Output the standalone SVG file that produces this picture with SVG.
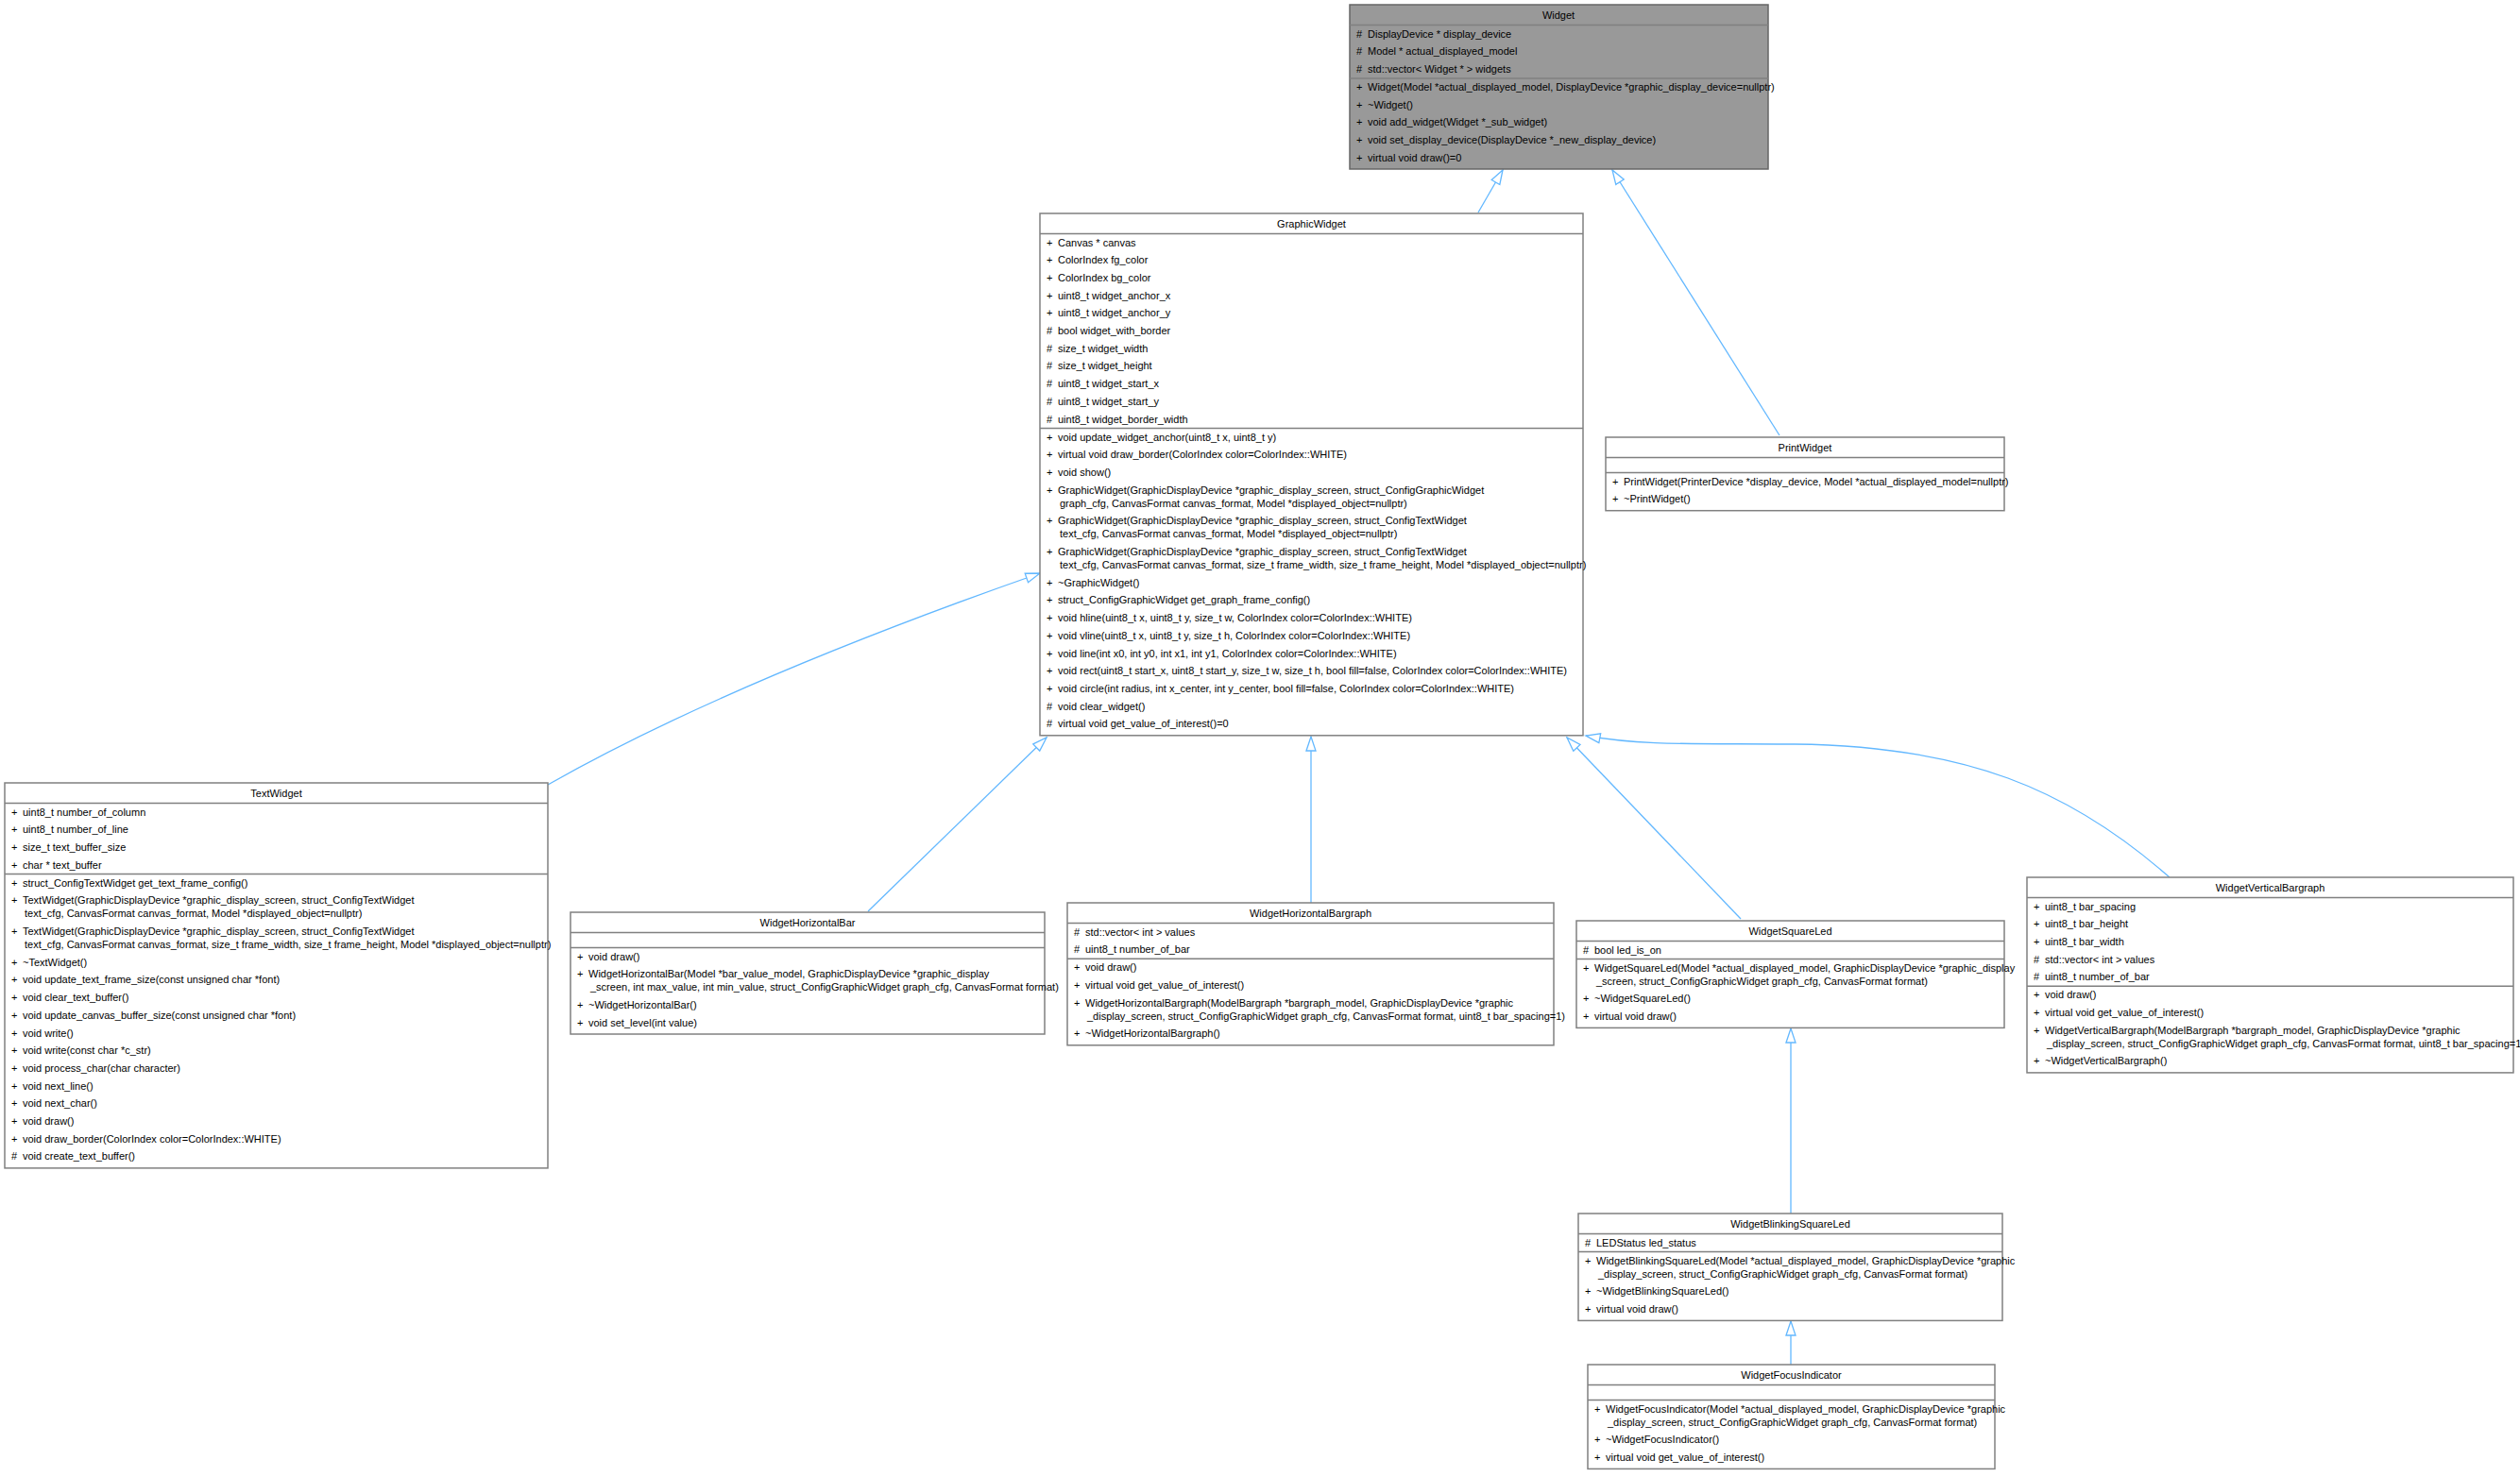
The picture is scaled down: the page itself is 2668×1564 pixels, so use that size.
<svg xmlns="http://www.w3.org/2000/svg" width="2668" height="1564" viewBox="0 0 2668 1564">
<style>
text{font-family:"Liberation Sans",Arial,sans-serif;font-size:11px;fill:#000}
.t{text-anchor:middle}
.box{fill:#fff;stroke:#808080;stroke-width:1.5}
.root{fill:#999;stroke:#666;stroke-width:1.5}
.div{stroke:#808080;stroke-width:1.5}
.e{fill:none;stroke:#63b8ff;stroke-width:1.3;marker-end:url(#tri)}
</style>
<defs>
<marker id="tri" markerWidth="18" markerHeight="14" refX="16" refY="6" orient="auto" markerUnits="userSpaceOnUse">
<path d="M1,1 L16,6 L1,11 Z" fill="#fff" stroke="#63b8ff" stroke-width="1.3"/>
</marker>
</defs>
<rect width="2668" height="1564" fill="#fff"/>

<g id="connectors">
<path class="e" d="M1565,225 L1591,180"/>
<path class="e" d="M1884,461 L1707,180"/>
<path class="e" d="M580,831 C740,740 950,660 1101,607"/>
<path class="e" d="M919,965 L1108,781"/>
<path class="e" d="M1388,956 L1388,780"/>
<path class="e" d="M1843,973 L1659,781"/>
<path class="e" d="M2297,929 C2190,835 2080,790 1900,788 C1800,787 1740,790 1679,779"/>
<path class="e" d="M1896,1285 L1896,1089"/>
<path class="e" d="M1896,1445 L1896,1399"/>
</g>

<g id="Widget">
<rect class="root" x="1429" y="5" width="443" height="174"/>
<line class="div" x1="1429" y1="26.5" x2="1872" y2="26.5"/>
<line class="div" x1="1429" y1="82.9" x2="1872" y2="82.9"/>
<text class="t" x="1650" y="20">Widget</text>
<text x="1436" y="39.5"># </text><text x="1448" y="39.5">DisplayDevice * display_device</text>
<text x="1436" y="58.2"># </text><text x="1448" y="58.2">Model * actual_displayed_model</text>
<text x="1436" y="76.9"># </text><text x="1448" y="76.9">std::vector&lt; Widget * &gt; widgets</text>
<text x="1436" y="95.9">+</text><text x="1448" y="95.9">Widget(Model *actual_displayed_model, DisplayDevice *graphic_display_device=nullptr)</text>
<text x="1436" y="114.6">+</text><text x="1448" y="114.6">~Widget()</text>
<text x="1436" y="133.3">+</text><text x="1448" y="133.3">void add_widget(Widget *_sub_widget)</text>
<text x="1436" y="152">+</text><text x="1448" y="152">void set_display_device(DisplayDevice *_new_display_device)</text>
<text x="1436" y="170.7">+</text><text x="1448" y="170.7">virtual void draw()=0</text>
</g>

<g id="GraphicWidget">
<rect class="box" x="1101" y="226" width="575" height="552.8"/>
<line class="div" x1="1101" y1="247.5" x2="1676" y2="247.5"/>
<line class="div" x1="1101" y1="453.5" x2="1676" y2="453.5"/>
<text class="t" x="1388.5" y="241">GraphicWidget</text>
<text x="1108" y="260.5">+</text><text x="1120" y="260.5">Canvas * canvas</text>
<text x="1108" y="279.2">+</text><text x="1120" y="279.2">ColorIndex fg_color</text>
<text x="1108" y="297.9">+</text><text x="1120" y="297.9">ColorIndex bg_color</text>
<text x="1108" y="316.6">+</text><text x="1120" y="316.6">uint8_t widget_anchor_x</text>
<text x="1108" y="335.3">+</text><text x="1120" y="335.3">uint8_t widget_anchor_y</text>
<text x="1108" y="354">#</text><text x="1120" y="354">bool widget_with_border</text>
<text x="1108" y="372.7">#</text><text x="1120" y="372.7">size_t widget_width</text>
<text x="1108" y="391.4">#</text><text x="1120" y="391.4">size_t widget_height</text>
<text x="1108" y="410.1">#</text><text x="1120" y="410.1">uint8_t widget_start_x</text>
<text x="1108" y="428.8">#</text><text x="1120" y="428.8">uint8_t widget_start_y</text>
<text x="1108" y="447.5">#</text><text x="1120" y="447.5">uint8_t widget_border_width</text>
<text x="1108" y="466.5">+</text><text x="1120" y="466.5">void update_widget_anchor(uint8_t x, uint8_t y)</text>
<text x="1108" y="485.2">+</text><text x="1120" y="485.2">virtual void draw_border(ColorIndex color=ColorIndex::WHITE)</text>
<text x="1108" y="503.9">+</text><text x="1120" y="503.9">void show()</text>
<text x="1108" y="522.6">+</text><text x="1120" y="522.6">GraphicWidget(GraphicDisplayDevice *graphic_display_screen, struct_ConfigGraphicWidget</text>
<text x="1122" y="536.6">graph_cfg, CanvasFormat canvas_format, Model *displayed_object=nullptr)</text>
<text x="1108" y="555.3">+</text><text x="1120" y="555.3">GraphicWidget(GraphicDisplayDevice *graphic_display_screen, struct_ConfigTextWidget</text>
<text x="1122" y="569.3">text_cfg, CanvasFormat canvas_format, Model *displayed_object=nullptr)</text>
<text x="1108" y="588">+</text><text x="1120" y="588">GraphicWidget(GraphicDisplayDevice *graphic_display_screen, struct_ConfigTextWidget</text>
<text x="1122" y="602">text_cfg, CanvasFormat canvas_format, size_t frame_width, size_t frame_height, Model *displayed_object=nullptr)</text>
<text x="1108" y="620.7">+</text><text x="1120" y="620.7">~GraphicWidget()</text>
<text x="1108" y="639.4">+</text><text x="1120" y="639.4">struct_ConfigGraphicWidget get_graph_frame_config()</text>
<text x="1108" y="658.1">+</text><text x="1120" y="658.1">void hline(uint8_t x, uint8_t y, size_t w, ColorIndex color=ColorIndex::WHITE)</text>
<text x="1108" y="676.8">+</text><text x="1120" y="676.8">void vline(uint8_t x, uint8_t y, size_t h, ColorIndex color=ColorIndex::WHITE)</text>
<text x="1108" y="695.5">+</text><text x="1120" y="695.5">void line(int x0, int y0, int x1, int y1, ColorIndex color=ColorIndex::WHITE)</text>
<text x="1108" y="714.2">+</text><text x="1120" y="714.2">void rect(uint8_t start_x, uint8_t start_y, size_t w, size_t h, bool fill=false, ColorIndex color=ColorIndex::WHITE)</text>
<text x="1108" y="732.9">+</text><text x="1120" y="732.9">void circle(int radius, int x_center, int y_center, bool fill=false, ColorIndex color=ColorIndex::WHITE)</text>
<text x="1108" y="751.6">#</text><text x="1120" y="751.6">void clear_widget()</text>
<text x="1108" y="770.3">#</text><text x="1120" y="770.3">virtual void get_value_of_interest()=0</text>
</g>

<g id="PrintWidget">
<rect class="box" x="1700" y="463" width="422" height="77.7"/>
<line class="div" x1="1700" y1="484.5" x2="2122" y2="484.5"/>
<line class="div" x1="1700" y1="500.5" x2="2122" y2="500.5"/>
<text class="t" x="1911" y="478">PrintWidget</text>
<text x="1707" y="513.5">+</text><text x="1719" y="513.5">PrintWidget(PrinterDevice *display_device, Model *actual_displayed_model=nullptr)</text>
<text x="1707" y="532.2">+</text><text x="1719" y="532.2">~PrintWidget()</text>
</g>

<g id="TextWidget">
<rect class="box" x="5" y="829" width="575" height="407.9"/>
<line class="div" x1="5" y1="850.5" x2="580" y2="850.5"/>
<line class="div" x1="5" y1="925.6" x2="580" y2="925.6"/>
<text class="t" x="292.5" y="844">TextWidget</text>
<text x="12" y="863.5">+</text><text x="24" y="863.5">uint8_t number_of_column</text>
<text x="12" y="882.2">+</text><text x="24" y="882.2">uint8_t number_of_line</text>
<text x="12" y="900.9">+</text><text x="24" y="900.9">size_t text_buffer_size</text>
<text x="12" y="919.6">+</text><text x="24" y="919.6">char * text_buffer</text>
<text x="12" y="938.6">+</text><text x="24" y="938.6">struct_ConfigTextWidget get_text_frame_config()</text>
<text x="12" y="957.3">+</text><text x="24" y="957.3">TextWidget(GraphicDisplayDevice *graphic_display_screen, struct_ConfigTextWidget</text>
<text x="26" y="971.3">text_cfg, CanvasFormat canvas_format, Model *displayed_object=nullptr)</text>
<text x="12" y="990">+</text><text x="24" y="990">TextWidget(GraphicDisplayDevice *graphic_display_screen, struct_ConfigTextWidget</text>
<text x="26" y="1004">text_cfg, CanvasFormat canvas_format, size_t frame_width, size_t frame_height, Model *displayed_object=nullptr)</text>
<text x="12" y="1022.7">+</text><text x="24" y="1022.7">~TextWidget()</text>
<text x="12" y="1041.4">+</text><text x="24" y="1041.4">void update_text_frame_size(const unsigned char *font)</text>
<text x="12" y="1060.1">+</text><text x="24" y="1060.1">void clear_text_buffer()</text>
<text x="12" y="1078.8">+</text><text x="24" y="1078.8">void update_canvas_buffer_size(const unsigned char *font)</text>
<text x="12" y="1097.5">+</text><text x="24" y="1097.5">void write()</text>
<text x="12" y="1116.2">+</text><text x="24" y="1116.2">void write(const char *c_str)</text>
<text x="12" y="1134.9">+</text><text x="24" y="1134.9">void process_char(char character)</text>
<text x="12" y="1153.6">+</text><text x="24" y="1153.6">void next_line()</text>
<text x="12" y="1172.3">+</text><text x="24" y="1172.3">void next_char()</text>
<text x="12" y="1191">+</text><text x="24" y="1191">void draw()</text>
<text x="12" y="1209.7">+</text><text x="24" y="1209.7">void draw_border(ColorIndex color=ColorIndex::WHITE)</text>
<text x="12" y="1228.4">#</text><text x="24" y="1228.4">void create_text_buffer()</text>
</g>

<g id="WidgetHorizontalBar">
<rect class="box" x="604" y="966" width="502" height="129"/>
<line class="div" x1="604" y1="987.5" x2="1106" y2="987.5"/>
<line class="div" x1="604" y1="1003.5" x2="1106" y2="1003.5"/>
<text class="t" x="855" y="981">WidgetHorizontalBar</text>
<text x="611" y="1016.5">+</text><text x="623" y="1016.5">void draw()</text>
<text x="611" y="1035.2">+</text><text x="623" y="1035.2">WidgetHorizontalBar(Model *bar_value_model, GraphicDisplayDevice *graphic_display</text>
<text x="625" y="1049.2">_screen, int max_value, int min_value, struct_ConfigGraphicWidget graph_cfg, CanvasFormat format)</text>
<text x="611" y="1067.9">+</text><text x="623" y="1067.9">~WidgetHorizontalBar()</text>
<text x="611" y="1086.6">+</text><text x="623" y="1086.6">void set_level(int value)</text>
</g>

<g id="WidgetHorizontalBargraph">
<rect class="box" x="1130" y="956" width="515" height="150.8"/>
<line class="div" x1="1130" y1="977.5" x2="1645" y2="977.5"/>
<line class="div" x1="1130" y1="1015.2" x2="1645" y2="1015.2"/>
<text class="t" x="1387.5" y="971">WidgetHorizontalBargraph</text>
<text x="1137" y="990.5">#</text><text x="1149" y="990.5">std::vector&lt; int &gt; values</text>
<text x="1137" y="1009.2">#</text><text x="1149" y="1009.2">uint8_t number_of_bar</text>
<text x="1137" y="1028.2">+</text><text x="1149" y="1028.2">void draw()</text>
<text x="1137" y="1046.9">+</text><text x="1149" y="1046.9">virtual void get_value_of_interest()</text>
<text x="1137" y="1065.6">+</text><text x="1149" y="1065.6">WidgetHorizontalBargraph(ModelBargraph *bargraph_model, GraphicDisplayDevice *graphic</text>
<text x="1151" y="1079.6">_display_screen, struct_ConfigGraphicWidget graph_cfg, CanvasFormat format, uint8_t bar_spacing=1)</text>
<text x="1137" y="1098.3">+</text><text x="1149" y="1098.3">~WidgetHorizontalBargraph()</text>
</g>

<g id="WidgetSquareLed">
<rect class="box" x="1669" y="975" width="453" height="113.4"/>
<line class="div" x1="1669" y1="996.5" x2="2122" y2="996.5"/>
<line class="div" x1="1669" y1="1015.5" x2="2122" y2="1015.5"/>
<text class="t" x="1895.5" y="990">WidgetSquareLed</text>
<text x="1676" y="1009.5">#</text><text x="1688" y="1009.5">bool led_is_on</text>
<text x="1676" y="1028.5">+</text><text x="1688" y="1028.5">WidgetSquareLed(Model *actual_displayed_model, GraphicDisplayDevice *graphic_display</text>
<text x="1690" y="1042.5">_screen, struct_ConfigGraphicWidget graph_cfg, CanvasFormat format)</text>
<text x="1676" y="1061.2">+</text><text x="1688" y="1061.2">~WidgetSquareLed()</text>
<text x="1676" y="1079.9">+</text><text x="1688" y="1079.9">virtual void draw()</text>
</g>

<g id="WidgetVerticalBargraph">
<rect class="box" x="2146" y="929" width="515" height="206.9"/>
<line class="div" x1="2146" y1="950.5" x2="2661" y2="950.5"/>
<line class="div" x1="2146" y1="1044.3" x2="2661" y2="1044.3"/>
<text class="t" x="2403.5" y="944">WidgetVerticalBargraph</text>
<text x="2153" y="963.5">+</text><text x="2165" y="963.5">uint8_t bar_spacing</text>
<text x="2153" y="982.2">+</text><text x="2165" y="982.2">uint8_t bar_height</text>
<text x="2153" y="1000.9">+</text><text x="2165" y="1000.9">uint8_t bar_width</text>
<text x="2153" y="1019.6">#</text><text x="2165" y="1019.6">std::vector&lt; int &gt; values</text>
<text x="2153" y="1038.3">#</text><text x="2165" y="1038.3">uint8_t number_of_bar</text>
<text x="2153" y="1057.3">+</text><text x="2165" y="1057.3">void draw()</text>
<text x="2153" y="1076">+</text><text x="2165" y="1076">virtual void get_value_of_interest()</text>
<text x="2153" y="1094.7">+</text><text x="2165" y="1094.7">WidgetVerticalBargraph(ModelBargraph *bargraph_model, GraphicDisplayDevice *graphic</text>
<text x="2167" y="1108.7">_display_screen, struct_ConfigGraphicWidget graph_cfg, CanvasFormat format, uint8_t bar_spacing=1)</text>
<text x="2153" y="1127.4">+</text><text x="2165" y="1127.4">~WidgetVerticalBargraph()</text>
</g>

<g id="WidgetBlinkingSquareLed">
<rect class="box" x="1671" y="1285" width="449" height="113.4"/>
<line class="div" x1="1671" y1="1306.5" x2="2120" y2="1306.5"/>
<line class="div" x1="1671" y1="1325.5" x2="2120" y2="1325.5"/>
<text class="t" x="1895.5" y="1300">WidgetBlinkingSquareLed</text>
<text x="1678" y="1319.5">#</text><text x="1690" y="1319.5">LEDStatus led_status</text>
<text x="1678" y="1338.5">+</text><text x="1690" y="1338.5">WidgetBlinkingSquareLed(Model *actual_displayed_model, GraphicDisplayDevice *graphic</text>
<text x="1692" y="1352.5">_display_screen, struct_ConfigGraphicWidget graph_cfg, CanvasFormat format)</text>
<text x="1678" y="1371.2">+</text><text x="1690" y="1371.2">~WidgetBlinkingSquareLed()</text>
<text x="1678" y="1389.9">+</text><text x="1690" y="1389.9">virtual void draw()</text>
</g>

<g id="WidgetFocusIndicator">
<rect class="box" x="1681" y="1445" width="431" height="110.4"/>
<line class="div" x1="1681" y1="1466.5" x2="2112" y2="1466.5"/>
<line class="div" x1="1681" y1="1482.5" x2="2112" y2="1482.5"/>
<text class="t" x="1896.5" y="1460">WidgetFocusIndicator</text>
<text x="1688" y="1495.5">+</text><text x="1700" y="1495.5">WidgetFocusIndicator(Model *actual_displayed_model, GraphicDisplayDevice *graphic</text>
<text x="1702" y="1509.5">_display_screen, struct_ConfigGraphicWidget graph_cfg, CanvasFormat format)</text>
<text x="1688" y="1528.2">+</text><text x="1700" y="1528.2">~WidgetFocusIndicator()</text>
<text x="1688" y="1546.9">+</text><text x="1700" y="1546.9">virtual void get_value_of_interest()</text>
</g>
</svg>
